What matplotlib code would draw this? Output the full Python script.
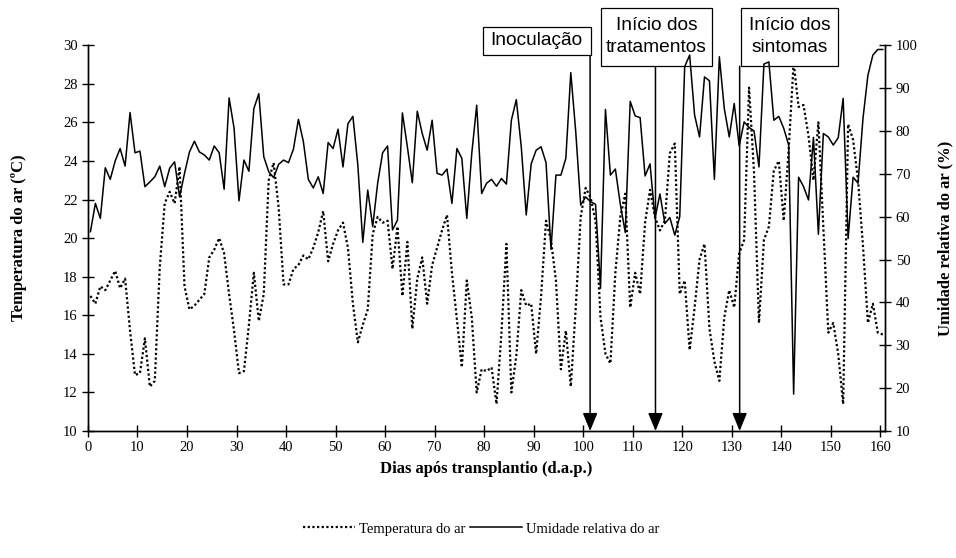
import numpy as np
from matplotlib import pyplot as plt
from matplotlib.patches import Rectangle

# dias após transplantio (0..160)
dias = np.arange(0, 161)

temperatura = [
    17.0, 16.6, 17.5, 17.3, 17.8, 18.3, 17.4, 17.9, 15.2, 12.9,
    13.0, 14.8, 12.3, 12.6, 18.5, 21.8, 22.4, 21.8, 23.7, 17.5,
    16.3, 16.5, 16.8, 17.1, 19.0, 19.4, 20.0, 19.2, 17.1, 15.2,
    13.0, 13.1, 15.5, 18.2, 15.7, 17.1, 23.0, 23.9, 21.6, 17.6,
    17.6, 18.4, 18.6, 19.1, 18.9, 19.5, 20.3, 21.4, 18.8, 19.7,
    20.4, 20.8, 19.5, 16.6, 14.6, 15.5, 16.3, 20.2, 21.1, 20.8,
    20.9, 18.4, 20.6, 17.0, 19.8, 15.3, 17.9, 19.0, 16.6, 18.6,
    19.5, 20.4, 21.2, 18.2, 15.8, 13.3, 17.8, 15.9, 12.0, 13.2,
    13.1, 13.3, 11.4, 15.1, 19.7, 12.0, 13.9, 17.3, 16.5, 16.6,
    14.0, 17.0, 20.9, 19.9, 17.8, 13.2, 15.2, 12.3, 16.4, 21.1,
    22.6, 22.1, 20.9, 15.9, 14.0, 13.5, 18.2, 21.1, 22.3, 16.4,
    18.2, 17.1, 20.8, 22.5, 21.1, 20.4, 20.9, 24.4, 24.9, 17.1,
    17.8, 14.2, 16.4, 18.9, 19.7, 15.3, 13.6, 12.6, 15.9, 17.3,
    16.4, 19.2, 19.9, 27.8, 23.4, 15.6, 19.9, 20.6, 23.5, 24.0,
    20.9, 24.6, 29.1, 26.8, 26.9, 25.3, 23.0, 26.0, 20.6, 15.1,
    15.6, 14.0, 11.4, 25.9, 25.1, 23.0, 19.6, 15.6, 16.6, 15.1,
    15.0,
]

umidade = [
    56.5, 63.1, 59.6, 71.4, 68.7, 73.0, 75.9, 71.8, 84.3, 74.9,
    75.3, 67.0, 68.1, 69.3, 71.8, 67.0, 71.3, 72.8, 64.6, 70.1,
    75.1, 77.6, 75.1, 74.4, 73.2, 76.5, 74.9, 66.4, 87.7, 80.7,
    63.7, 73.2, 70.6, 85.2, 88.7, 74.0, 70.5, 69.1, 72.2, 73.2,
    72.6, 75.8, 82.7, 77.5, 68.7, 66.7, 69.3, 65.4, 77.3, 75.9,
    80.4, 71.6, 81.7, 83.4, 72.0, 54.0, 66.2, 57.7, 67.8, 74.9,
    76.5, 56.9, 59.2, 84.2, 76.3, 67.9, 84.6, 79.4, 75.5, 82.5,
    70.1, 69.7, 71.1, 63.1, 75.9, 73.6, 59.6, 74.7, 86.0, 65.4,
    67.8, 68.7, 67.1, 68.9, 67.6, 82.5, 87.3, 76.3, 60.4, 72.3,
    75.5, 76.3, 72.6, 52.4, 69.7, 69.7, 73.6, 93.6, 79.8, 62.7,
    64.6, 63.5, 62.9, 43.3, 85.0, 69.7, 71.1, 62.9, 56.3, 86.9,
    83.5, 83.1, 69.5, 72.3, 59.6, 65.3, 58.4, 59.8, 55.7, 60.0,
    95.0, 97.7, 83.7, 78.6, 92.6, 91.7, 68.7, 97.3, 85.2, 78.6,
    86.4, 76.5, 82.1, 80.8, 80.0, 71.6, 95.6, 96.1, 82.5, 83.4,
    80.6, 76.7, 18.6, 69.2, 67.0, 63.9, 78.5, 55.9, 79.4, 78.6,
    76.7, 78.4, 87.6, 54.9, 69.2, 67.8, 82.9, 93.0, 97.7, 99.0,
    99.0,
]

# eventos: texto e dia da seta
eventos = ["Inoculação", "Início dos\ntratamentos", "Início dos\nsintomas"]
dias_eventos = [101.4, 114.6, 131.6]

serif = "Liberation Serif"
sans = "Liberation Sans"

fig = plt.figure(figsize=(9.56, 5.58), dpi=100)
ax = fig.add_axes([0.092, 0.2276, 0.834, 0.6914])
ax2 = ax.twinx()

x = dias + 0.5
l1, = ax.plot(x, temperatura, color="black", lw=1.6, linestyle=(0, (1, 1.1)))
l2, = ax2.plot(x, umidade, color="black", lw=1.1)

ax.set_xlim(0, 161)
ax.set_ylim(10, 30)
ax2.set_ylim(10, 100)
ax.set_xticks(np.arange(0, 161, 10))
ax.set_yticks(np.arange(10, 31, 2))
ax2.set_yticks(np.arange(10, 101, 10))

for a in (ax, ax2):
    a.spines["top"].set_visible(False)
    for s in a.spines.values():
        s.set_linewidth(1.0)
    a.tick_params(direction="inout", length=8, width=1.0, labelsize=10.5)
    for lab in a.get_xticklabels() + a.get_yticklabels():
        lab.set_fontfamily(serif)

ax.set_xlabel("Dias após transplantio (d.a.p.)", fontfamily=serif,
              fontweight="bold", fontsize=12, labelpad=5)
ax.set_ylabel("Temperatura do ar (ºC)", fontfamily=serif,
              fontweight="bold", fontsize=12, labelpad=26)
ax2.set_ylabel("Umidade relativa do ar (%)", fontfamily=serif,
               fontweight="bold", fontsize=12, labelpad=14)

# caixas (x0, x1, y0, y1 em unidades do eixo) e setas
caixas = [(79.7, 101.5, 29.48, 30.93),
          (103.5, 126.1, 28.91, 31.92),
          (131.8, 151.5, 28.91, 31.92)]
for txt, xd, (x0, x1, y0, y1) in zip(eventos, dias_eventos, caixas):
    ax.annotate("", xy=(xd, 10.0), xytext=(xd, y0), annotation_clip=False,
                arrowprops=dict(arrowstyle="-|>,head_length=1.1,head_width=0.45",
                                color="black", lw=1.1, shrinkA=0, shrinkB=0))
    ax.add_patch(Rectangle((x0, y0), x1 - x0, y1 - y0, fc="white", ec="black",
                           lw=0.9, clip_on=False, zorder=5))
    ax.text((x0 + x1) / 2, (y0 + y1) / 2 + 0.02, txt, ha="center", va="center",
            fontfamily=sans, fontsize=13.8, clip_on=False, linespacing=1.4,
            zorder=6)

fig.legend([l1, l2], ["Temperatura do ar", "Umidade relativa do ar"],
           loc="center", bbox_to_anchor=(0.503, 0.052), ncol=2, frameon=False,
           handlelength=3.6, handletextpad=0.25, columnspacing=0.3,
           prop={"family": serif, "size": 10.5})

fig.savefig("out.png", dpi=100)
